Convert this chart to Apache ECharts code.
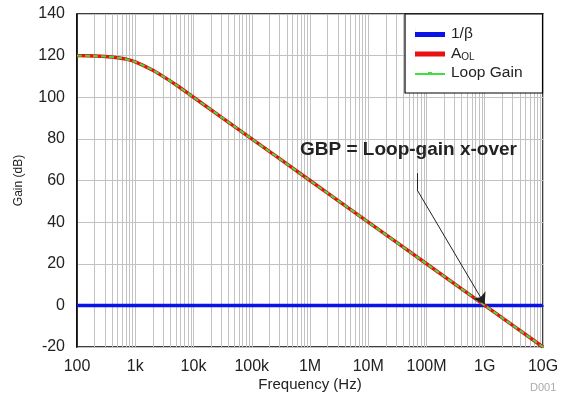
<!DOCTYPE html>
<html><head><meta charset="utf-8">
<script src="https://cdn.jsdelivr.net/npm/echarts@6/dist/echarts.min.js"></script>
<style>html,body{margin:0;padding:0;background:#fff}#c{width:562px;height:393px}</style>
</head><body><div id="c"></div>
<script>
// Frequencies (Hz) and gains (dB)
const freqs = [100, 200, 300, 500, 700, 1e3, 2e3, 3e3, 5e3, 1e4, 1e5, 1e6, 1e7, 1e8, 1e9, 1e10];
const aolGain = [120, 119.8, 119.6, 119, 118.3, 117, 113, 110, 106, 100, 80, 60, 40, 20, 0, -20];
const loopGain = [120, 119.8, 119.6, 119, 118.3, 117, 113, 110, 106, 100, 80, 60, 40, 20, 0, -20];
const betaFreqs = [100, 1e10];
const betaGain = [0, 0];
const xTickLabels = {100:'100',1000:'1k',10000:'10k',100000:'100k',1000000:'1M',10000000:'10M',100000000:'100M',1000000000:'1G',10000000000:'10G'};
const arrowPath = [[6.9e7, 63.5], [6.9e7, 55.5], [1.0e9, 0.5]];

const minorLines = [];
for (let e = 2; e < 10; e++) for (let m = 2; m <= 9; m++) minorLines.push({xAxis: m * Math.pow(10, e)});

const chart = echarts.init(document.getElementById('c'));
const F = 'Liberation Sans, Arial, sans-serif';
const GRID = '#c2c2c2';
chart.setOption({
  animation: false,
  grid: {left: 77, right: 19, top: 14, bottom: 46, outerBoundsMode: 'none', containLabel: false,
         show: true, borderColor: '#000', borderWidth: 1.5, backgroundColor: 'transparent'},
  xAxis: {
    type: 'log', logBase: 10, min: 100, max: 1e10,
    name: 'Frequency (Hz)', nameLocation: 'middle', nameGap: 30, nameMoveOverlap: false,
    nameTextStyle: {fontFamily: F, fontSize: 15, color: '#222'},
    axisLine: {lineStyle: {color: '#000', width: 1.5}},
    axisTick: {show: false},
    axisLabel: {fontFamily: F, fontSize: 16, color: '#222', margin: 12, formatter: v => xTickLabels[Math.round(v)] || ''},
    splitLine: {show: true, lineStyle: {color: GRID, width: 1}}
  },
  yAxis: {
    type: 'value', min: -20, max: 140, interval: 20,
    name: 'Gain (dB)', nameLocation: 'middle', nameGap: 52, nameRotate: 90, nameMoveOverlap: false,
    nameTextStyle: {fontFamily: F, fontSize: 12, color: '#222'},
    axisLine: {show: true, lineStyle: {color: '#000', width: 1.5}},
    axisTick: {show: false},
    axisLabel: {fontFamily: F, fontSize: 16, color: '#222', margin: 12},
    splitLine: {show: true, lineStyle: {color: GRID, width: 1}}
  },
  legend: {
    orient: 'vertical', left: 405, top: 14, z: 10,
    padding: [11.5, 20, 11.5, 10], itemGap: 2, itemWidth: 32, itemHeight: 12,
    backgroundColor: '#fff', borderColor: '#000', borderWidth: 1.2, borderRadius: 0,
    textStyle: {fontFamily: F, fontSize: 15.5, color: '#222', lineHeight: 17, rich: {
      n: {fontFamily: F, fontSize: 15.5, color: '#222', lineHeight: 17},
      s: {fontFamily: F, fontSize: 10, color: '#222', lineHeight: 10, padding: [8, 0, 0, 0]}
    }},
    formatter: n => n === 'AOL' ? '{n|A}{s|OL}' : n,
    data: [
      {name: '1/β', icon: 'path://M0,0H0.05V12H0Z M0,4H30V9H0Z', itemStyle: {color: '#0a14e6'}},
      {name: 'AOL', icon: 'path://M0,0H0.05V12H0Z M0,4H30V9H0Z', itemStyle: {color: '#e81010'}},
      {name: 'Loop Gain', icon: 'path://M0,0H0.05V12H0Z M0,6H13V8H0Z M13,5H17V8H13Z M17,6H30V8H17Z', itemStyle: {color: '#3ee03e'}}
    ]
  },
  series: [
    {name: 'grid', type: 'line', symbol: 'none', z: 1, data: [],
     markLine: {silent: true, z: 1, symbol: 'none', label: {show: false}, animation: false,
       lineStyle: {color: GRID, width: 1, type: 'solid'}, data: minorLines}},
    {name: '1/β', type: 'line', symbol: 'none', z: 3,
     lineStyle: {color: '#0a14e6', width: 3.5}, itemStyle: {color: '#0a14e6'},
     data: betaFreqs.map((f, i) => [f, betaGain[i]])},
    {name: 'AOL', type: 'line', symbol: 'none', z: 4, smooth: 0.3,
     lineStyle: {color: '#e81010', width: 3.5}, itemStyle: {color: '#e81010'},
     data: freqs.map((f, i) => [f, aolGain[i]])},
    {name: 'Loop Gain', type: 'line', symbol: 'none', z: 5, smooth: 0.3,
     lineStyle: {color: '#3ee03e', width: 2, type: [5, 3]}, itemStyle: {color: '#3ee03e'},
     data: freqs.map((f, i) => [f, loopGain[i]]),
     markLine: {silent: true, z: 6, animation: false, label: {show: false},
       lineStyle: {color: '#222', width: 1, type: 'solid'},
       symbol: ['none', 'none'],
       data: [
         [{coord: arrowPath[0], symbol: 'none'}, {coord: arrowPath[1], symbol: 'none'}],
         [{coord: arrowPath[1], symbol: 'none'}, {coord: arrowPath[2], symbol: 'arrow', symbolSize: 11}]
       ]}}
  ],
  graphic: [
    {type: 'text', left: 300, top: 140, z: 100, style: {text: 'GBP = Loop-gain x-over', fontFamily: F, fontSize: 19, fontWeight: 'bold', fill: '#222'}},
    {type: 'text', left: 530, top: 382, z: 100, style: {text: 'D001', fontFamily: F, fontSize: 11, fill: '#aaa'}}
  ]
});
</script></body></html>
